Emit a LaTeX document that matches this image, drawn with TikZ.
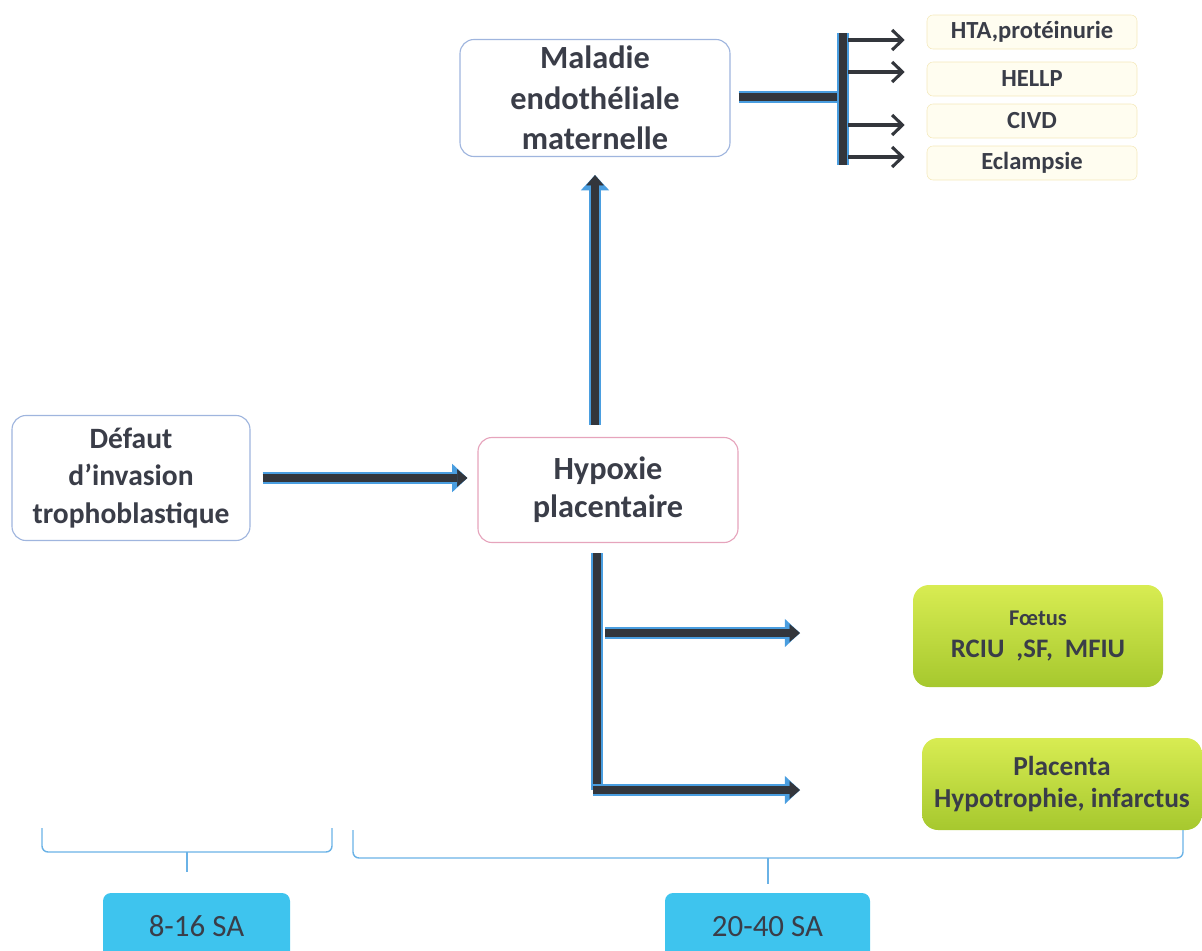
\documentclass[tikz,border=0pt]{standalone}
\usepackage{fontspec}
\setmainfont{Carlito}
\usetikzlibrary{arrows.meta,positioning}

\definecolor{txtgray}{HTML}{3A3D48}
\definecolor{boxblue}{HTML}{9FB5DE}
\definecolor{boxpink}{HTML}{E6A4BC}
\definecolor{creamfill}{HTML}{FFFDF0}
\definecolor{creamline}{HTML}{F4E9BC}
\definecolor{greentop}{HTML}{D8EC52}
\definecolor{greenbot}{HTML}{A6C82E}
\definecolor{cyanbox}{HTML}{3EC4EE}
\definecolor{arrowblue}{HTML}{4A9EE0}
\definecolor{darkline}{HTML}{33363C}
\definecolor{bracecol}{HTML}{6AB2E6}

\tikzset{
  bigbox/.style={draw, rounded corners=0.35cm, fill=white, line width=0.8pt,
    align=center, text=txtgray},
  smallbox/.style={draw=creamline, fill=creamfill, rounded corners=0.15cm,
    minimum width=5.25cm, minimum height=0.85cm, text=txtgray,
    font=\fontsize{17.5}{18}\selectfont\bfseries},
  greenbox/.style={rounded corners=0.4cm, top color=greentop, bottom color=greenbot,
    draw=none, align=center, text=txtgray},
  sabox/.style={fill=cyanbox, rounded corners=0.2cm, text=txtgray,
    font=\fontsize{22}{24}\selectfont},
  thickline/.style={draw=arrowblue, line width=8.5pt,
    postaction={draw=darkline, line width=5.5pt}},
  thickarrow/.style={draw=arrowblue, line width=8.5pt,
    -{Triangle[length=0.38cm,width=0.7cm,line width=1pt]},
    postaction={draw=darkline, line width=5.5pt, -{Triangle[length=0.26cm,width=0.44cm,line width=0.5pt]}}},
  thinarrow/.style={draw=darkline, line width=2.2pt,
    -{Straight Barb[length=0.26cm,width=0.5cm]}},
  brace/.style={draw=bracecol, line width=1pt, rounded corners=0.15cm}
}

\begin{document}
\begin{tikzpicture}
    \useasboundingbox (0,0) rectangle (30.05,-23.75);

    % boxes
    \node[bigbox, draw=boxblue, minimum width=6.75cm, minimum height=2.925cm,
      font=\fontsize{23}{29}\selectfont\bfseries] at (14.875,-2.45) (mal) {Maladie\\endothéliale\\maternelle};
    \node[bigbox, draw=boxblue, minimum width=5.95cm, minimum height=3.125cm,
      font=\fontsize{21}{26.5}\selectfont\bfseries] at (3.275,-11.95) (def) {Défaut\\d’invasion\\trophoblastique};
    \node[bigbox, draw=boxpink, minimum width=6.5cm, minimum height=2.625cm,
      font=\fontsize{23}{27}\selectfont\bfseries] at (15.2,-12.25) (hyp) {Hypoxie\\placentaire};

    \node[smallbox] at (25.8,-0.8) (hta) {HTA,protéinurie};
    \node[smallbox] at (25.8,-1.975) (hellp) {HELLP};
    \node[smallbox] at (25.8,-3.025) (civd) {CIVD};
    \node[smallbox] at (25.8,-4.075) (ecl) {Eclampsie};

    \node[greenbox, minimum width=6.25cm, minimum height=2.55cm,
      font=\fontsize{19}{23}\selectfont\bfseries] at (25.95,-15.9) (foe)
      {{\fontsize{16}{23}\selectfont Fœtus}\\RCIU\ \ ,SF,\ \ MFIU};
    \node[greenbox, minimum width=7.0cm, minimum height=2.3cm,
      font=\fontsize{19.5}{23}\selectfont\bfseries] at (26.55,-19.6) (pla) {Placenta\\Hypotrophie, infarctus};

    \node[sabox, minimum width=4.675cm, minimum height=1.675cm] at (4.9125,-23.1625) (sa1) {8-16 SA};
    \node[sabox, minimum width=5.125cm, minimum height=1.675cm] at (19.1875,-23.1625) (sa2) {20-40 SA};

    % junction points
    \coordinate (t0) at (21.075,-2.425);
    \coordinate (t1) at (21.075,-0.825);
    \coordinate (t2) at (21.075,-4.125);
    \coordinate (a1) at (21.075,-1.0);
    \coordinate (a2) at (21.075,-1.8);
    \coordinate (a3) at (21.075,-3.125);
    \coordinate (a4) at (21.075,-3.925);
    \coordinate (b1) at (14.925,-13.825);
    \coordinate (b2) at (14.925,-19.75);
    \coordinate (k1) at (14.925,-15.825);
    \coordinate (e1) at (20.0,-15.825);
    \coordinate (e2) at (20.0,-19.75);

    % connectors
    \draw[thickarrow, shorten <=0.3cm, shorten >=0.25cm] (def.east) -- (def.east -| hyp.west);
    \draw[thickarrow, shorten <=0.3cm, shorten >=0.45cm] (mal.south |- hyp.north) -- (mal.south);
    \draw[thickline, shorten <=0.2cm, shorten >=0.12cm] (mal.east |- t0) -- (t0);
    \draw[thickline] (t1) -- (t2);
    \draw[thinarrow, shorten <=0.12cm, shorten >=0.55cm] (a1) -- (a1 -| hta.west);
    \draw[thinarrow, shorten <=0.12cm, shorten >=0.55cm] (a2) -- (a2 -| hellp.west);
    \draw[thinarrow, shorten <=0.12cm, shorten >=0.55cm] (a3) -- (a3 -| civd.west);
    \draw[thinarrow, shorten <=0.12cm, shorten >=0.55cm] (a4) -- (a4 -| ecl.west);
    \draw[thickline] (b1) -- (b2);
    \draw[thickarrow, shorten <=0.2cm] (k1) -- (e1);
    \draw[thickarrow, shorten <=-0.1cm] (b2) -- (e2);

    % braces
    \draw[brace] (1.05,-20.7) |- (4.675,-21.3) -| (8.3,-20.7);
    \draw[brace] (4.675,-21.3) -- (4.675,-21.8);
    \draw[brace] (8.825,-20.75) |- (19.2,-21.45) -| (29.575,-20.75);
    \draw[brace] (19.2,-21.45) -- (19.2,-22.1);
\end{tikzpicture}
\end{document}
